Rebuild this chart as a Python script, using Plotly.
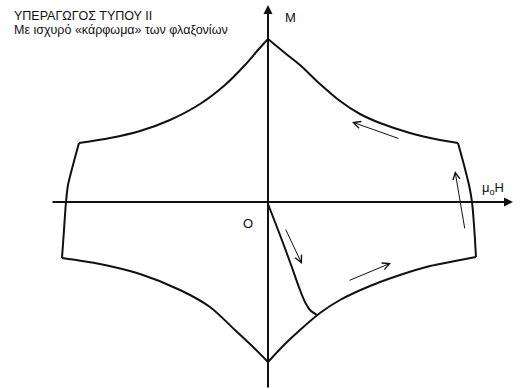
import plotly.graph_objects as go

# Schematic magnetisation loop of a type-II superconductor with strong flux pinning.
# Coordinates: H to the right, M upward, origin where the two axes cross.

# Upper branch, left half (from the left corner up to the peak at H = 0)
upper_left_H = [-189, -158, -128, -98, -68, -43, -23, -10, 0]
upper_left_M = [60, 65, 72, 83, 99, 118, 138, 153, 164]

# Upper branch, right half (from the peak down to the right corner)
upper_right_H = [0, 17, 32, 52, 72, 92, 112, 142, 172, 190]
upper_right_M = [164, 150, 138, 119, 102, 89, 80, 70, 63, 60]

# Lower branch, left half
lower_left_H = [-206, -168, -128, -88, -58, -33, -18, 0]
lower_left_M = [-55, -61, -71, -87, -104, -127, -141, -159]

# Lower branch, right half
lower_right_H = [0, 17, 32, 52, 72, 102, 132, 162, 187, 208]
lower_right_M = [-159, -141, -127, -110, -97, -83, -72, -63, -58, -54]

# Left and right edges (steep sweeps at high field)
left_edge_H = [-189, -195, -200, -202, -204, -206]
left_edge_M = [60, 38, 18, 1, -27, -55]
right_edge_H = [190, 196, 201, 204, 206, 208]
right_edge_M = [60, 38, 18, 1, -22, -54]

# Virgin curve starting from the origin
virgin_H = [0, 12, 22, 32, 37, 42, 49]
virgin_M = [-1, -32, -59, -87, -99, -107, -112]

# Direction arrows: (tail H, tail M, head H, head M)
arrows = [
    (17, -25, 34, -61),
    (80, -78, 123, -60),
    (197, -27, 187, 32),
    (132, 64, 84, 81),
]

BLACK = "#111111"

fig = go.Figure()

segments = [
    (upper_left_H, upper_left_M),
    (upper_right_H, upper_right_M),
    (lower_left_H, lower_left_M),
    (lower_right_H, lower_right_M),
    (left_edge_H, left_edge_M),
    (right_edge_H, right_edge_M),
    (virgin_H, virgin_M),
]
for hs, ms in segments:
    fig.add_trace(go.Scatter(
        x=hs, y=ms, mode="lines",
        line=dict(color=BLACK, width=2, shape="spline", smoothing=0.8),
        hoverinfo="skip", showlegend=False,
    ))

# Axes drawn as arrows
fig.add_annotation(x=245, y=1, ax=-217, ay=1, xref="x", yref="y", axref="x", ayref="y",
                   text="", showarrow=True, arrowhead=2, arrowsize=0.9, arrowwidth=2,
                   arrowcolor=BLACK, standoff=0, startstandoff=0)
fig.add_annotation(x=0, y=198, ax=0, ay=-186, xref="x", yref="y", axref="x", ayref="y",
                   text="", showarrow=True, arrowhead=2, arrowsize=0.9, arrowwidth=2,
                   arrowcolor=BLACK, standoff=0, startstandoff=0)

for th, tm, hh, hm in arrows:
    fig.add_annotation(x=hh, y=hm, ax=th, ay=tm, xref="x", yref="y", axref="x", ayref="y",
                       text="", showarrow=True, arrowhead=5, arrowsize=1.4, arrowwidth=1,
                       arrowcolor=BLACK, standoff=0, startstandoff=0)

font = dict(family="Liberation Sans, Arial, sans-serif", color=BLACK)

fig.add_annotation(x=-256, y=187, xref="x", yref="y", xanchor="left", yanchor="middle",
                   text="ΥΠΕΡΑΓΩΓΟΣ ΤΥΠΟΥ ΙΙ", showarrow=False, font=dict(size=12.5, **font))
fig.add_annotation(x=-256, y=173, xref="x", yref="y", xanchor="left", yanchor="middle",
                   text="Με ισχυρό «κάρφωμα» των φλαξονίων", showarrow=False,
                   font=dict(size=12.5, **font))
fig.add_annotation(x=22, y=186, xref="x", yref="y", text="M", showarrow=False,
                   font=dict(size=13, **font))
fig.add_annotation(x=225, y=15, xref="x", yref="y", text="μ<sub>o</sub>H", showarrow=False,
                   font=dict(size=13, **font))
fig.add_annotation(x=-20, y=-20, xref="x", yref="y", text="O", showarrow=False,
                   font=dict(size=13, **font))

fig.update_layout(
    width=520, height=389,
    margin=dict(l=0, r=0, t=0, b=0),
    paper_bgcolor="white", plot_bgcolor="white",
    xaxis=dict(range=[-268, 252], visible=False, fixedrange=True),
    yaxis=dict(range=[-186, 203], visible=False, fixedrange=True),
    showlegend=False,
)

fig.write_html("out.html")
